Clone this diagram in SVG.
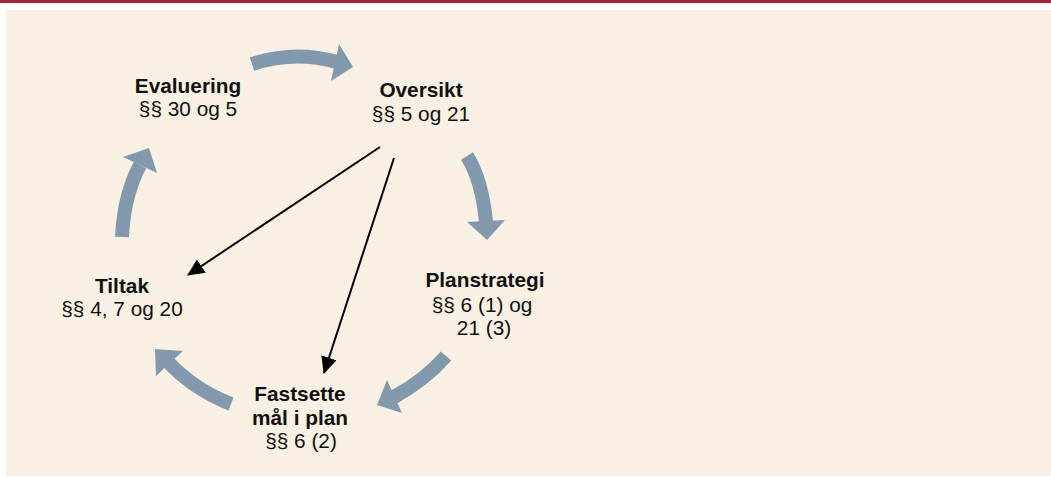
<svg xmlns="http://www.w3.org/2000/svg" width="1051" height="477" viewBox="0 0 1051 477">
<defs>
<style>
.t{font-family:"Liberation Sans",Arial,sans-serif;font-size:20.8px;fill:#111;text-anchor:middle}
.b{font-weight:bold}
.body{fill:none;stroke:#8299ad;stroke-width:14}
.head{fill:#8299ad}
.ln{stroke:#000;stroke-width:2;fill:none;marker-end:url(#ah)}
</style>
<marker id="ah" markerUnits="userSpaceOnUse" markerWidth="18" markerHeight="16" refX="16" refY="8" orient="auto">
<path d="M0,0 L17,8 L0,16 Z" fill="#000"/>
</marker>
</defs>
<rect x="0" y="0" width="1051" height="3" fill="#a0283a"/>
<rect x="6" y="10" width="1045" height="466" fill="#f8f0e2"/>
<g id="cycle-arrows">
<path class="body" d="M252,64 Q295,50 337,62"/>
<polygon class="head" points="339,44 353,67 331,81"/>
<path class="body" d="M467,156 Q482,180 486,222"/>
<polygon class="head" points="467,222 487,240 505,220"/>
<path class="body" d="M446,356 Q425,380 394,397"/>
<polygon class="head" points="387,380 377,405 402,413"/>
<path class="body" d="M231,404 Q195,390 169,363"/>
<polygon class="head" points="183,351 155,349 156,376"/>
<path class="body" d="M122,237 Q124,195 140,165"/>
<polygon class="head" points="123,157 149,148 157,173"/>
</g>
<g id="connectors">
<line class="ln" x1="380" y1="147" x2="188" y2="275"/>
<line class="ln" x1="394" y1="158" x2="324" y2="373"/>
</g>
<g id="evaluering">
<text class="t b" x="188" y="93">Evaluering</text>
<text class="t" x="188" y="116">§§ 30 og 5</text>
</g>
<g id="oversikt">
<text class="t b" x="421" y="97">Oversikt</text>
<text class="t" x="421" y="121">§§ 5 og 21</text>
</g>
<g id="planstrategi">
<text class="t b" x="485" y="287">Planstrategi</text>
<text class="t" x="482" y="312">§§ 6 (1) og</text>
<text class="t" x="484" y="335">21 (3)</text>
</g>
<g id="fastsette">
<text class="t b" x="300" y="401">Fastsette</text>
<text class="t b" x="300" y="425">mål i plan</text>
<text class="t" x="301" y="448">§§ 6 (2)</text>
</g>
<g id="tiltak">
<text class="t b" x="122" y="293">Tiltak</text>
<text class="t" x="122" y="316">§§ 4, 7 og 20</text>
</g>
</svg>
